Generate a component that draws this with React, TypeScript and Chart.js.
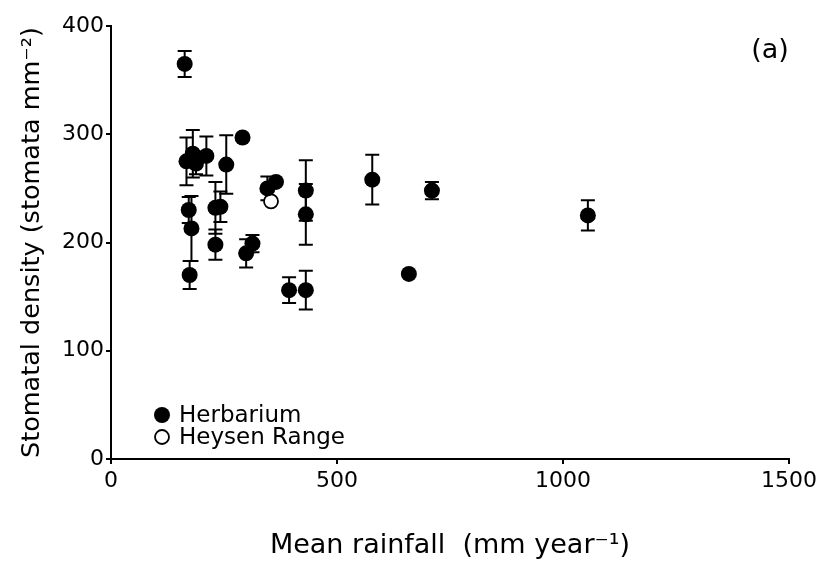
import React, { useEffect, useRef } from "react";
import { Chart, registerables } from "chart.js";

Chart.register(...registerables);

// Herbarium specimens: mean rainfall (mm/yr), stomatal density (stomata/mm2), SE
const herbRainfall = [163, 167, 181, 188, 211, 255, 291, 172, 178, 174, 231, 242, 231, 299, 313, 346, 365, 394, 431, 431, 431, 578, 659, 710, 1055];
const herbDensity = [365, 275, 282, 273, 280, 272, 297, 230, 213, 170, 232, 233, 198, 190, 199, 250, 256, 156, 248, 226, 156, 258, 171, 248, 225];
const herbError = [12, 22, 22, 10, 18, 27, 0, 12, 30, 13, 24, 14, 14, 13, 8, 11, 0, 12, 28, 28, 18, 23, 0, 8, 14];

// Heysen Range field site
const heysenRainfall = [354];
const heysenDensity = [238];
const heysenError = [0];

const xTicks = [0, 500, 1000, 1500];
const yTicks = [0, 100, 200, 300, 400];

const FONT = "'DejaVu Sans', Verdana, sans-serif";

const errorBarPlugin = {
  id: "errorBars",
  beforeDatasetsDraw(chart: any) {
    const { ctx, scales } = chart;
    const xs = scales.x;
    const ys = scales.y;
    ctx.save();
    ctx.strokeStyle = "#000";
    ctx.lineWidth = 2;
    chart.data.datasets.forEach((ds: any) => {
      const errs: number[] = ds.errors || [];
      ds.data.forEach((p: any, i: number) => {
        const e = errs[i];
        if (!e) return;
        const px = xs.getPixelForValue(p.x);
        const top = ys.getPixelForValue(p.y + e);
        const bot = ys.getPixelForValue(p.y - e);
        const cap = 7;
        ctx.beginPath();
        ctx.moveTo(px, top);
        ctx.lineTo(px, bot);
        ctx.moveTo(px - cap, top);
        ctx.lineTo(px + cap, top);
        ctx.moveTo(px - cap, bot);
        ctx.lineTo(px + cap, bot);
        ctx.stroke();
      });
    });
    ctx.restore();
  },
};

const annotPlugin = {
  id: "annot",
  afterDraw(chart: any) {
    const { ctx, chartArea } = chart;
    ctx.save();
    // panel label
    ctx.fillStyle = "#000";
    ctx.font = `27px ${FONT}`;
    ctx.textAlign = "center";
    ctx.textBaseline = "middle";
    ctx.fillText("(a)", 770, 51);
    // legend
    ctx.font = `23px ${FONT}`;
    ctx.textAlign = "left";
    const rows = [
      { y: 415, fill: true },
      { y: 437, fill: false },
    ];
    chart.data.datasets.forEach((ds: any, i: number) => {
      const r = rows[i];
      const cx = chartArea.left + 51;
      ctx.beginPath();
      ctx.arc(cx, r.y, r.fill ? 8 : 7, 0, Math.PI * 2);
      if (r.fill) {
        ctx.fillStyle = "#000";
        ctx.fill();
      } else {
        ctx.fillStyle = "#fff";
        ctx.fill();
        ctx.lineWidth = 1.8;
        ctx.strokeStyle = "#000";
        ctx.stroke();
      }
      ctx.fillStyle = "#000";
      ctx.fillText(ds.label, cx + 17, r.y + 1);
    });
    ctx.restore();
  },
};

export default function App() {
  const ref = useRef<HTMLCanvasElement | null>(null);
  useEffect(() => {
    document.body.style.margin = "0";
    const canvas = ref.current!;
    const chart = new Chart(canvas, {
      type: "scatter",
      data: {
        datasets: [
          {
            label: "Herbarium",
            data: herbRainfall.map((x, i) => ({ x, y: herbDensity[i] })),
            errors: herbError,
            pointRadius: 8,
            pointBackgroundColor: "#000",
            pointBorderColor: "#000",
            pointBorderWidth: 0,
          } as any,
          {
            label: "Heysen Range",
            data: heysenRainfall.map((x, i) => ({ x, y: heysenDensity[i] })),
            errors: heysenError,
            pointRadius: 7,
            pointBackgroundColor: "#fff",
            pointBorderColor: "#000",
            pointBorderWidth: 1.8,
          } as any,
        ],
      },
      options: {
        animation: false,
        responsive: false,
        events: [],
        layout: { padding: { top: 26, right: 30, left: 0, bottom: 0 } },
        plugins: { legend: { display: false }, tooltip: { enabled: false } },
        scales: {
          x: {
            type: "linear",
            min: 0,
            max: 1500,
            afterBuildTicks: (s: any) => {
              s.ticks = xTicks.map((v) => ({ value: v }));
            },
            afterFit: (s: any) => {
              s.height = 105;
            },
            ticks: {
              font: { family: FONT, size: 22 },
              color: "#000",
              padding: 4,
              maxRotation: 0,
              callback: (v: any) => String(v),
            },
            grid: { display: true, drawOnChartArea: false, drawTicks: true, tickLength: 5, color: "#000", lineWidth: 2 },
            border: { display: true, color: "#000", width: 2 },
            title: {
              display: true,
              text: "Mean rainfall  (mm year\u207B\u00B9)",
              font: { family: FONT, size: 27 },
              color: "#000",
              padding: { top: 0, bottom: 2 },
            },
          },
          y: {
            type: "linear",
            min: 0,
            max: 400,
            afterBuildTicks: (s: any) => {
              s.ticks = yTicks.map((v) => ({ value: v }));
            },
            afterFit: (s: any) => {
              s.width = 111;
            },
            ticks: {
              font: { family: FONT, size: 22 },
              color: "#000",
              padding: 2,
              callback: (v: any) => String(v),
            },
            grid: { display: true, drawOnChartArea: false, drawTicks: true, tickLength: 5, color: "#000", lineWidth: 2 },
            border: { display: true, color: "#000", width: 2 },
            title: {
              display: true,
              text: "Stomatal density (stomata mm\u207B\u00B2)",
              font: { family: FONT, size: 25.5 },
              color: "#000",
              padding: { top: 17, bottom: 0 },
            },
          },
        },
      },
      plugins: [errorBarPlugin, annotPlugin],
    } as any);
    return () => chart.destroy();
  }, []);
  return (
    <div style={{ width: 821, height: 564, background: "#fff" }}>
      <canvas ref={ref} width={821} height={564} style={{ display: "block" }} />
    </div>
  );
}
